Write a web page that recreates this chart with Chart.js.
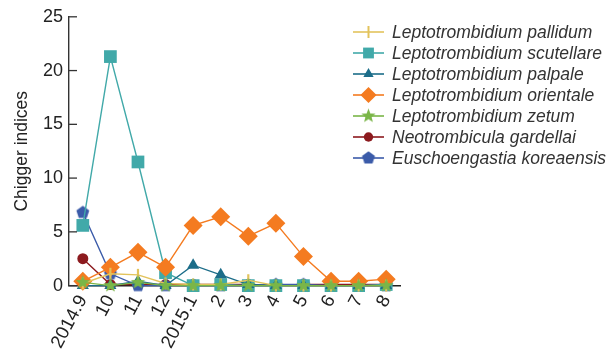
<!DOCTYPE html>
<html>
<head>
<meta charset="utf-8">
<script src="https://cdn.jsdelivr.net/npm/chart.js@4.4.1/dist/chart.umd.min.js"></script>
<style>
  html, body { margin: 0; padding: 0; background: #fff; }
  #wrap { width: 606px; height: 350px; position: relative; }
</style>
</head>
<body>
<div id="wrap"><canvas id="chiggerChart" width="606" height="350"></canvas></div>
<script>
// Mois de collecte
const months = ['2014.9', '10', '11', '12', '2015.1', '2', '3', '4', '5', '6', '7', '8'];
const yTicks = [0, 5, 10, 15, 20, 25];

// Indices par espece
const pallidum   = [0.2, 1.1, 1.0, 0.2, 0.1, 0.1, 0.5, 0.0, 0.0, 0.0, 0.0, 0.0];
const scutellare = [5.6, 21.3, 11.5, 1.2, 0.0, 0.1, 0.0, 0.0, 0.0, 0.0, 0.0, 0.1];
const palpale    = [0.0, 0.0, 0.4, 0.0, 1.9, 1.0, 0.1, 0.0, 0.0, 0.0, 0.0, 0.0];
const orientale  = [0.4, 1.7, 3.1, 1.7, 5.6, 6.4, 4.6, 5.8, 2.7, 0.4, 0.4, 0.6];
const zetum      = [0.3, 0.0, 0.3, 0.0, 0.0, 0.0, 0.0, 0.0, 0.0, 0.0, 0.0, 0.0];
const gardellai  = [2.5, 0.1, 0.1, 0.1, 0.1, 0.1, 0.1, 0.0, 0.1, 0.1, 0.1, 0.1];
const koreaensis = [6.8, 1.1, 0.0, 0.0, 0.0, 0.0, 0.0, 0.1, 0.1, 0.0, 0.0, 0.0];

// Marqueurs dessines a la main (etoile et pentagone pleins)
function makePolygon(color, points, outer, inner) {
    const size = Math.ceil(outer * 2 + 2);
    const c = document.createElement('canvas');
    c.width = size; c.height = size;
    const ctx = c.getContext('2d');
    const cx = size / 2, cy = size / 2;
    ctx.beginPath();
    const n = inner ? points * 2 : points;
    for (let i = 0; i < n; i++) {
        const r = inner && i % 2 === 1 ? inner : outer;
        const a = -Math.PI / 2 + i * Math.PI * 2 / n;
        const px = cx + r * Math.cos(a), py = cy + r * Math.sin(a);
        if (i === 0) ctx.moveTo(px, py); else ctx.lineTo(px, py);
    }
    ctx.closePath();
    ctx.fillStyle = color;
    ctx.fill();
    return c;
}

const starImg = makePolygon('#7ab648', 5, 7.5, 3.2);
const pentaImg = makePolygon('#3b5ba9', 5, 6.8, 0);

function serie(label, data, color, style, radius, order, extra) {
    return Object.assign({
        label: label,
        data: data,
        borderColor: color,
        backgroundColor: color,
        pointBackgroundColor: color,
        pointBorderColor: color,
        borderWidth: 1.4,
        pointStyle: style,
        pointRadius: radius,
        pointBorderWidth: 0,
        tension: 0,
        clip: false,
        order: order
    }, extra || {});
}

const datasets = [
    serie('Leptotrombidium pallidum', pallidum, '#e2c35c', 'line', 6, 1, { pointRotation: 90, pointBorderWidth: 2.2 }),
    serie('Leptotrombidium scutellare', scutellare, '#41a9a9', 'rect', 9, 4),
    serie('Leptotrombidium palpale', palpale, '#1c6d89', 'triangle', 7, 3),
    serie('Leptotrombidium orientale', orientale, '#f47b20', 'rectRot', 9.5, 2),
    serie('Leptotrombidium zetum', zetum, '#7ab648', starImg, 7.5, 0),
    serie('Neotrombicula gardellai', gardellai, '#8c1a1e', 'circle', 5.5, 6),
    serie('Euschoengastia koreaensis', koreaensis, '#3b5ba9', pentaImg, 7, 5)
];

// Legende a droite : trait + marqueur + nom en italique
const legendPlugin = {
    id: 'sideLegend',
    afterDraw(chart) {
        const ctx = chart.ctx;
        const x0 = 353, x1 = 384, tx = 392;
        let y = 32;
        ctx.save();
        chart.data.datasets.forEach(ds => {
            ctx.strokeStyle = ds.borderColor;
            ctx.fillStyle = ds.borderColor;
            ctx.lineWidth = 1.6;
            ctx.beginPath();
            ctx.moveTo(x0, y); ctx.lineTo(x1, y);
            ctx.stroke();
            const mx = (x0 + x1) / 2;
            if (ds.pointStyle instanceof HTMLCanvasElement) {
                const img = ds.pointStyle;
                ctx.drawImage(img, mx - img.width / 2, y - img.height / 2);
            } else {
                const isLine = ds.pointStyle === 'line';
                ctx.lineWidth = isLine ? 2 : 0;
                Chart.helpers.drawPoint(ctx, {
                    pointStyle: ds.pointStyle,
                    rotation: ds.pointRotation || 0,
                    radius: isLine ? 6 : ds.pointRadius * 0.85,
                    borderWidth: isLine ? 2 : 0
                }, mx, y);
            }
            ctx.fillStyle = '#333';
            ctx.font = 'italic 17.5px "Liberation Sans", Arial, sans-serif';
            ctx.textBaseline = 'middle';
            ctx.fillText(ds.label, tx, y + 1);
            y += 21;
        });
        ctx.restore();
    }
};

// Petites graduations tournees vers l'interieur sur l'axe Y
const innerTicks = {
    id: 'innerTicks',
    afterDatasetsDraw(chart) {
        const ctx = chart.ctx;
        const ys = chart.scales.y;
        const left = chart.chartArea.left;
        ctx.save();
        ctx.strokeStyle = '#333';
        ctx.lineWidth = 1.3;
        yTicks.forEach(v => {
            const py = ys.getPixelForValue(v);
            ctx.beginPath();
            ctx.moveTo(left, py); ctx.lineTo(left + 8, py);
            ctx.stroke();
        });
        ctx.restore();
    }
};

const ctx = document.getElementById('chiggerChart');
const chart = new Chart(ctx, {
    type: 'line',
    data: { labels: months, datasets: datasets },
    plugins: [legendPlugin, innerTicks],
    options: {
        responsive: false,
        animation: false,
        devicePixelRatio: 1,
        layout: { padding: { top: 15, right: 206, left: 8, bottom: -8 } },
        plugins: {
            legend: { display: false },
            tooltip: { enabled: false }
        },
        scales: {
            x: {
                offset: true,
                grid: { display: false, drawTicks: false },
                border: { display: true, color: '#222', width: 1.4 },
                ticks: {
                    color: '#222',
                    font: { family: '"Liberation Sans", Arial, sans-serif', size: 18.5 },
                    minRotation: 62,
                    maxRotation: 62,
                    padding: 6,
                    autoSkip: false
                }
            },
            y: {
                min: 0,
                max: 25,
                afterBuildTicks(axis) { axis.ticks = yTicks.map(v => ({ value: v })); },
                grid: { display: false, drawTicks: false },
                border: { display: true, color: '#333', width: 1.4 },
                title: {
                    display: true,
                    text: 'Chigger indices',
                    color: '#222',
                    font: { family: '"Liberation Sans", Arial, sans-serif', size: 17.5 },
                    padding: { bottom: 4 }
                },
                ticks: {
                    color: '#222',
                    font: { family: '"Liberation Sans", Arial, sans-serif', size: 18 },
                    padding: 6
                }
            }
        }
    }
});
</script>
</body>
</html>
